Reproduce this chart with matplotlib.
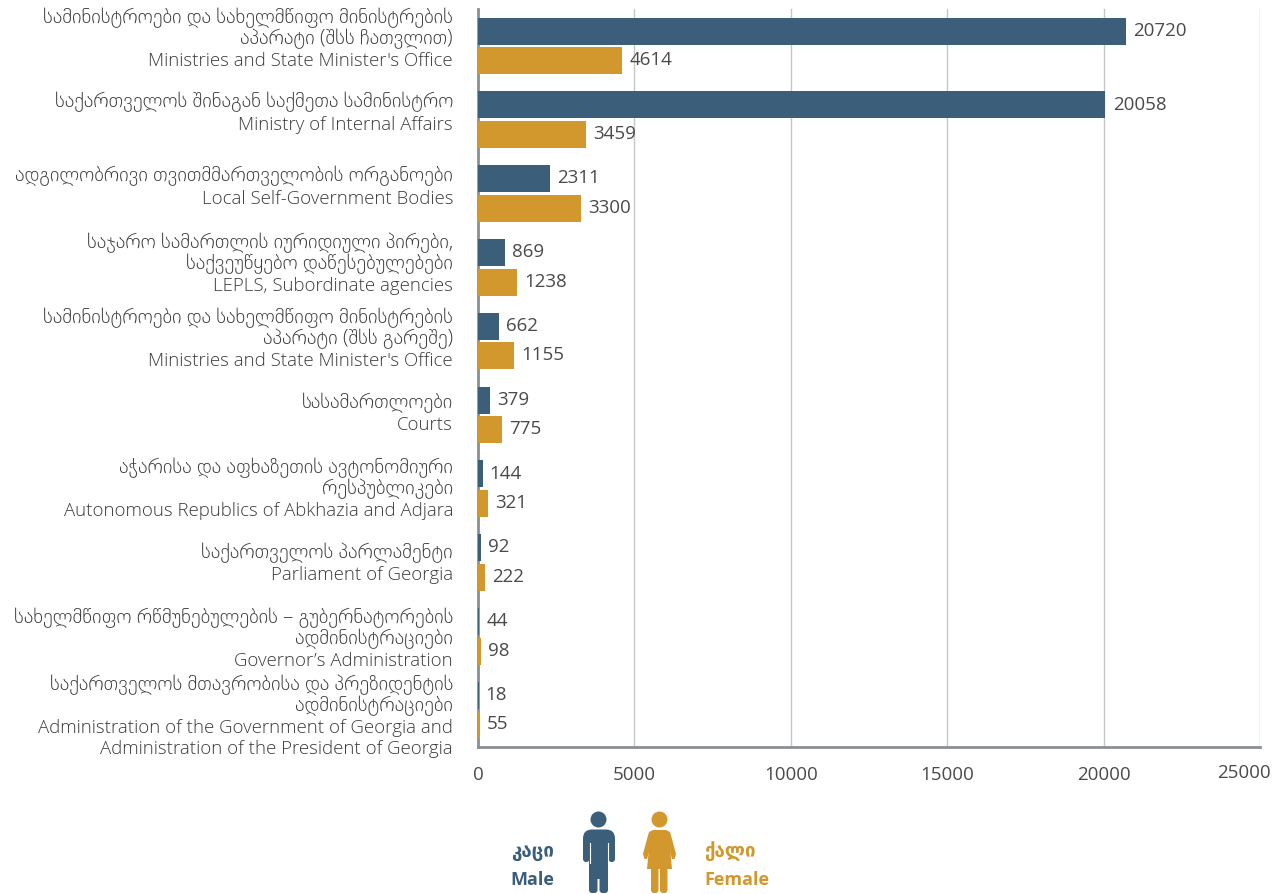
import matplotlib
matplotlib.use("Agg")
import matplotlib.pyplot as plt
from matplotlib.patches import Circle, FancyBboxPatch, Polygon
import numpy as np

plt.rcParams['font.family'] = ['Open Sans', 'DejaVu Sans']

categories = [
    "სამინისტროები და სახელმწიფო მინისტრების\nაპარატი (შსს ჩათვლით)\nMinistries and State Minister's Office",
    "საქართველოს შინაგან საქმეთა სამინისტრო\nMinistry of Internal Affairs",
    "ადგილობრივი თვითმმართველობის ორგანოები\nLocal Self-Government Bodies",
    "საჯარო სამართლის იურიდიული პირები,\nსაქვეუწყებო დაწესებულებები\nLEPLS, Subordinate agencies",
    "სამინისტროები და სახელმწიფო მინისტრების\nაპარატი (შსს გარეშე)\nMinistries and State Minister's Office",
    "სასამართლოები\nCourts",
    "აჭარისა და აფხაზეთის ავტონომიური\nრესპუბლიკები\nAutonomous Republics of Abkhazia and Adjara",
    "საქართველოს პარლამენტი\nParliament of Georgia",
    "სახელმწიფო რწმუნებულების – გუბერნატორების\nადმინისტრაციები\nGovernor’s Administration",
    "საქართველოს მთავრობისა და პრეზიდენტის\nადმინისტრაციები\nAdministration of the Government of Georgia and\nAdministration of the President of Georgia",
]
male = [20720, 20058, 2311, 869, 662, 379, 144, 92, 44, 18]
female = [4614, 3459, 3300, 1238, 1155, 775, 321, 222, 98, 55]
xticks = [0, 5000, 10000, 15000, 20000, 25000]

blue = "#3b5e7b"
orange = "#d2972d"
textcol = "#3c3c3c"
numcol = "#4a4a4a"
W, H = 1283, 895

# vertical centre of each label block, pixels from top
label_mid = [39, 113, 187, 264, 339, 414, 489, 563.5, 639, 716.5]
line_gap = 21

fig = plt.figure(figsize=(W / 100, H / 100), dpi=100)
ax = fig.add_axes([478 / W, 1 - 748 / H, 782 / W, 738 / H])

y = np.arange(len(categories))
ax.barh(y - 0.2, male, height=0.365, color=blue, zorder=3)
ax.barh(y + 0.2, female, height=0.365, color=orange, zorder=3)

for i in y:
    ax.annotate(str(male[i]), (male[i], i - 0.2), xytext=(5.2, 1), textcoords="offset points",
                va="center", ha="left", fontsize=13.5, color=numcol, zorder=4)
    ax.annotate(str(female[i]), (female[i], i + 0.2), xytext=(5.2, 1), textcoords="offset points",
                va="center", ha="left", fontsize=13.5, color=numcol, zorder=4)

ax.set_xlim(0, 25000)
ax.set_ylim(9.5, -0.5)
ax.set_xticks(xticks)
ax.set_yticks([])
ax.tick_params(axis="x", length=0, pad=13, labelsize=13.5, labelcolor=numcol)
ax.grid(axis="x", color="#c4c6c8", linewidth=1, zorder=0)
ax.spines["top"].set_visible(False)
ax.spines["right"].set_visible(False)
ax.spines["left"].set_color("#8c8f92")
ax.spines["bottom"].set_color("#8c8f92")
ax.spines["left"].set_linewidth(2)
ax.spines["bottom"].set_linewidth(2)

# overlay in pixel coords for labels and legend figures
ov = fig.add_axes([0, 0, 1, 1], facecolor="none")
ov.set_xlim(0, W)
ov.set_ylim(H, 0)
ov.axis("off")

for label, mid in zip(categories, label_mid):
    lines = label.split("\n")
    for k, line in enumerate(lines):
        georgian = any(0x10A0 <= ord(c) <= 0x10FF for c in line)
        ypos = mid + (k - (len(lines) - 1) / 2) * line_gap
        ov.text(453, ypos if georgian else ypos + 1, line, ha="right", va="center",
                fontsize=14.7 if georgian else 13.4, fontweight="light", color=textcol)

# last tick label sits inside the image in the original
ax.get_xticklabels()[-1].set_visible(False)
ov.text(1244, 773, "25000", ha="center", va="center", fontsize=13.5, color=numcol)


def rrect(x0, y0, x1, y1, r, col):
    ov.add_patch(FancyBboxPatch((x0 + r, y0 + r), x1 - x0 - 2 * r, y1 - y0 - 2 * r,
                                boxstyle="round,pad=%f,rounding_size=%f" % (r, r),
                                fc=col, ec="none"))


# man
ov.add_patch(Circle((598.5, 820.5), 8, fc=blue, ec="none"))
rrect(589, 835, 608, 880, 2, blue)
rrect(589, 870, 597.5, 894, 3, blue)
rrect(599.5, 870, 608, 894, 3, blue)
rrect(583, 830.5, 615, 858, 9, blue)
rrect(583, 840, 589.5, 863, 3, blue)
rrect(608.5, 840, 615, 863, 3, blue)
ov.plot([589.5, 589.5], [844, 864], color="white", lw=0.8)
ov.plot([608, 608], [844, 864], color="white", lw=0.8)

# woman
ov.add_patch(Polygon([(653, 831), (666, 831), (669, 838), (672, 870),
                      (647, 870), (650, 838)], fc=orange, ec="none"))
ov.add_patch(Polygon([(653, 831), (649, 833), (647, 840), (643, 855), (644.5, 860), (647, 860),
                      (651, 846), (653, 838)], fc=orange, ec="none"))
ov.add_patch(Polygon([(666, 831), (670, 833), (672, 840), (676, 855), (674.5, 860), (672, 860),
                      (668, 846), (666, 838)], fc=orange, ec="none"))
ov.add_patch(Circle((659.5, 820.5), 8, fc=orange, ec="none"))
rrect(651, 868, 658.5, 894, 3, orange)
rrect(660, 868, 667.5, 894, 3, orange)

ov.text(554, 852, "კაცი", color=blue, fontsize=13.5, fontweight="bold", ha="right", va="center")
ov.text(554, 880, "Male", color=blue, fontsize=13, fontweight="bold", ha="right", va="center")
ov.text(704, 852, "ქალი", color=orange, fontsize=13.5, fontweight="bold", ha="left", va="center")
ov.text(704, 880, "Female", color=orange, fontsize=13, fontweight="bold", ha="left", va="center")

fig.savefig("out.png", dpi=100)
